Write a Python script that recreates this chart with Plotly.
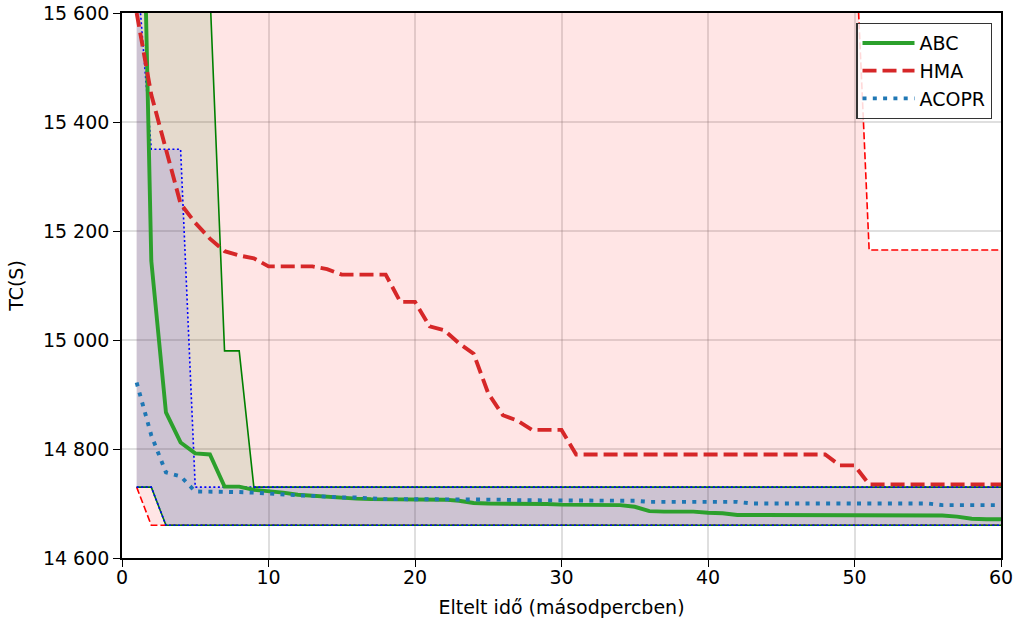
import plotly.graph_objects as go

x = list(range(1, 61))

abc_mean = [16400, 15145, 14867, 14812, 14792, 14790, 14731, 14731, 14725, 14723,
            14720, 14716, 14714, 14712, 14711, 14709, 14708, 14708, 14707, 14707,
            14707, 14707, 14705, 14701, 14700, 14700, 14700, 14700, 14699, 14698,
            14698, 14697, 14697, 14697, 14694, 14686, 14685, 14685, 14685, 14683,
            14682, 14679, 14679, 14679, 14679, 14679, 14679, 14679, 14679, 14679,
            14679, 14679, 14679, 14679, 14679, 14678, 14676, 14672, 14671, 14671]
abc_min = [14730, 14730] + [14660] * 58
abc_max = [17000, 16600, 16600, 16600, 16600, 15640, 14980, 14980] + [14730] * 52

hma_mean = [15600, 15450, 15350, 15250, 15215, 15186, 15163, 15155, 15150, 15135,
            15135, 15135, 15135, 15130, 15120, 15120, 15120, 15120, 15070, 15070,
            15025, 15018, 14994, 14975, 14902, 14862, 14852, 14835, 14835, 14835,
            14790, 14790, 14790, 14790, 14790, 14790, 14790, 14790, 14790, 14790,
            14790, 14790, 14790, 14790, 14790, 14790, 14790, 14790, 14770, 14770,
            14735, 14735, 14735, 14735, 14735, 14735, 14735, 14735, 14735, 14735]
hma_min = [14730] + [14660] * 59
hma_max = [15770] * 50 + [15165] * 10

acopr_mean = [14922, 14825, 14757, 14750, 14722, 14722, 14722, 14721, 14720, 14718,
              14716, 14715, 14714, 14712, 14711, 14711, 14709, 14708, 14708, 14708,
              14707, 14707, 14707, 14707, 14707, 14707, 14706, 14706, 14706, 14706,
              14705, 14705, 14705, 14705, 14705, 14703, 14703, 14703, 14703, 14703,
              14703, 14703, 14700, 14700, 14700, 14700, 14700, 14700, 14700, 14700,
              14700, 14700, 14700, 14700, 14700, 14697, 14697, 14697, 14697, 14697]
acopr_min = [14730, 14730] + [14660] * 58
acopr_max = [15690, 15350, 15350, 15350] + [14730] * 56

y_ticks = [14600, 14800, 15000, 15200, 15400, 15600]
x_ticks = [0, 10, 20, 30, 40, 50, 60]

FONT = "DejaVu Sans"
fig = go.Figure()

bands = [
    (hma_min, hma_max, "red", "rgba(255,0,0,0.1)", "7px,3px"),
    (abc_min, abc_max, "green", "rgba(0,128,0,0.1)", "solid"),
    (acopr_min, acopr_max, "blue", "rgba(0,0,255,0.1)", "2px,2.5px"),
]
for lo, hi, col, fcol, dash in bands:
    fig.add_trace(go.Scatter(x=x, y=lo, mode="lines", showlegend=False, hoverinfo="skip",
                             line=dict(color=col, width=1.6, dash=dash)))
    fig.add_trace(go.Scatter(x=x, y=hi, mode="lines", showlegend=False, hoverinfo="skip",
                             fill="tonexty", fillcolor=fcol,
                             line=dict(color=col, width=1.6, dash=dash)))

fig.add_trace(go.Scatter(x=x, y=abc_mean, mode="lines", name="ABC",
                         line=dict(color="#2ca02c", width=3.9)))
fig.add_trace(go.Scatter(x=x, y=hma_mean, mode="lines", name="HMA",
                         line=dict(color="#d62728", width=3.9, dash="14px,6px")))
fig.add_trace(go.Scatter(x=x, y=acopr_mean, mode="lines", name="ACOPR",
                         line=dict(color="#1f77b4", width=3.9, dash="4px,6.3px")))

axis_common = dict(showline=True, mirror=True, linecolor="black", linewidth=1.6,
                   ticks="outside", ticklen=7, tickwidth=1.4, tickcolor="black",
                   showgrid=True, gridcolor="rgba(128,128,128,0.25)", gridwidth=1.5,
                   zeroline=False, automargin=False, ticklabeloverflow="allow",
                   tickfont=dict(family=FONT, size=19, color="black"))

fig.update_layout(
    width=1015, height=624,
    margin=dict(l=122, r=14, t=13, b=66),
    paper_bgcolor="white", plot_bgcolor="white",
    separators=", ",
    font=dict(family=FONT, size=19, color="black"),
    xaxis=dict(range=[0, 60], tickvals=x_ticks, ticklabelstandoff=-6,
               title=dict(text="Eltelt idő (másodpercben)", font=dict(family=FONT, size=19), standoff=14),
               **axis_common),
    yaxis=dict(range=[14600, 15600], tickvals=y_ticks, tickformat=",d",
               title=dict(text="TC(S)", font=dict(family=FONT, size=19), standoff=14),
               **axis_common),
    legend=dict(x=0.99, y=0.982, xanchor="right", yanchor="top", traceorder="normal",
                bgcolor="rgba(255,255,255,0.85)", bordercolor="#333", borderwidth=1.3,
                font=dict(family=FONT, size=19, color="black"), itemwidth=52,
                tracegroupgap=0),
    showlegend=True,
)

# remove the default 8px page margin so the figure fills the window exactly
fig.write_html("out.html", config={"displayModeBar": False},
               post_script="document.body.style.margin='0';document.body.style.overflow='hidden';")
